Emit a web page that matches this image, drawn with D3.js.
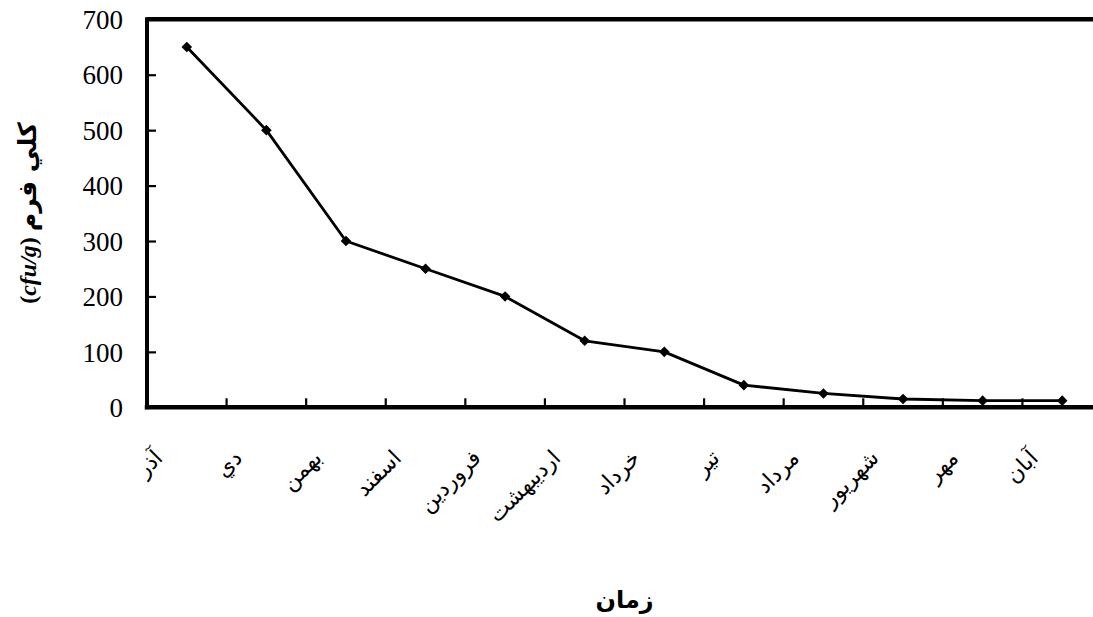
<!DOCTYPE html>
<html>
<head>
<meta charset="utf-8">
<script src="https://cdn.jsdelivr.net/npm/d3@7"></script>
<style>
  html, body { margin: 0; padding: 0; background: #fff; }
  svg { display: block; overflow: hidden; }
</style>
</head>
<body>
<svg id="chart" width="1093" height="617"></svg>
<script>
const categories = ["آذر", "دي", "بهمن", "اسفند", "فروردين", "ارديبهشت", "خرداد", "تير", "مرداد", "شهريور", "مهر", "آبان"];
const values = [650, 500, 300, 250, 200, 120, 100, 40, 25, 15, 12, 12];
const yTicks = [0, 100, 200, 300, 400, 500, 600, 700];
const xTitle = "زمان";
const yTitleArabic = "كلي فرم";
const yTitleUnit = "cfu/g";

(function () {
const svg = d3.select("#chart");
const mLeft = 147, mRight = 1102, mTop = 19.3, mBottom = 407.3;

const x = d3.scaleBand().domain(categories).range([mLeft, mRight]).padding(0);
const y = d3.scaleLinear().domain([0, 700]).range([mBottom, mTop]);

// y axis ticks & labels
const yAxis = d3.axisLeft(y).tickValues(yTicks).tickSize(-9).tickPadding(24).tickFormat(d3.format("d"));
const gy = svg.append("g").attr("transform", `translate(${mLeft},0)`).call(yAxis);
gy.select(".domain").remove();
gy.selectAll(".tick line").attr("stroke", "#000").attr("stroke-width", 2.2);
gy.selectAll(".tick text")
  .attr("font-family", "'Liberation Serif', 'Times New Roman', serif")
  .attr("font-size", 27).attr("fill", "#000").attr("dy", "0.34em");

// x ticks at band boundaries
svg.append("g").selectAll("line")
  .data(categories.slice(1))
  .join("line")
  .attr("x1", d => x(d)).attr("x2", d => x(d))
  .attr("y1", mBottom).attr("y2", mBottom - 9)
  .attr("stroke", "#000").attr("stroke-width", 2.2);

// frame lines
svg.append("line").attr("x1", mLeft).attr("x2", mRight).attr("y1", y(700)).attr("y2", y(700))
  .attr("stroke", "#000").attr("stroke-width", 4.5);
svg.append("line").attr("x1", mLeft).attr("x2", mRight).attr("y1", y(0)).attr("y2", y(0))
  .attr("stroke", "#000").attr("stroke-width", 4.5).attr("stroke-linecap", "square");
svg.append("line").attr("x1", mLeft).attr("x2", mLeft).attr("y1", y(700)).attr("y2", y(0))
  .attr("stroke", "#000").attr("stroke-width", 4).attr("stroke-linecap", "square");

// data line
const pts = categories.map((c, i) => [x(c) + x.bandwidth() / 2, y(values[i])]);
svg.append("path")
  .attr("d", d3.line()(pts))
  .attr("fill", "none").attr("stroke", "#000").attr("stroke-width", 2.8).attr("stroke-linejoin", "round");

svg.append("g").selectAll("path")
  .data(pts)
  .join("path")
  .attr("d", d3.symbol(d3.symbolSquare, 56)())
  .attr("transform", d => `translate(${d[0]},${d[1]}) rotate(45)`)
  .attr("fill", "#000");

// x category labels (rotated)
svg.append("g").selectAll("text")
  .data(categories)
  .join("text")
  .attr("transform", d => `translate(${x(d) + x.bandwidth() / 2 - 23},${mBottom + 52}) rotate(-45)`)
  .attr("text-anchor", "end")
  .attr("font-family", "'DejaVu Sans', sans-serif")
  .attr("font-size", 22)
  .attr("fill", "#000")
  .text(d => d);

// x title
svg.append("text")
  .attr("x", (mLeft + mRight) / 2).attr("y", 608)
  .attr("text-anchor", "middle")
  .attr("font-family", "'DejaVu Sans', sans-serif")
  .attr("font-weight", "bold").attr("font-size", 24)
  .text(xTitle);

// y title
const yt = svg.append("text")
  .attr("transform", `translate(36,213) rotate(-90)`)
  .attr("text-anchor", "middle")
  .attr("font-family", "'Liberation Serif', 'Times New Roman', serif")
  .attr("font-weight", "bold").attr("font-size", 24);
yt.append("tspan").text("(");
yt.append("tspan").attr("font-style", "italic").text(yTitleUnit);
yt.append("tspan").text(") ");
yt.append("tspan").attr("font-family", "'DejaVu Sans', sans-serif").attr("font-size", 25).text(yTitleArabic);
})();
</script>
</body>
</html>
